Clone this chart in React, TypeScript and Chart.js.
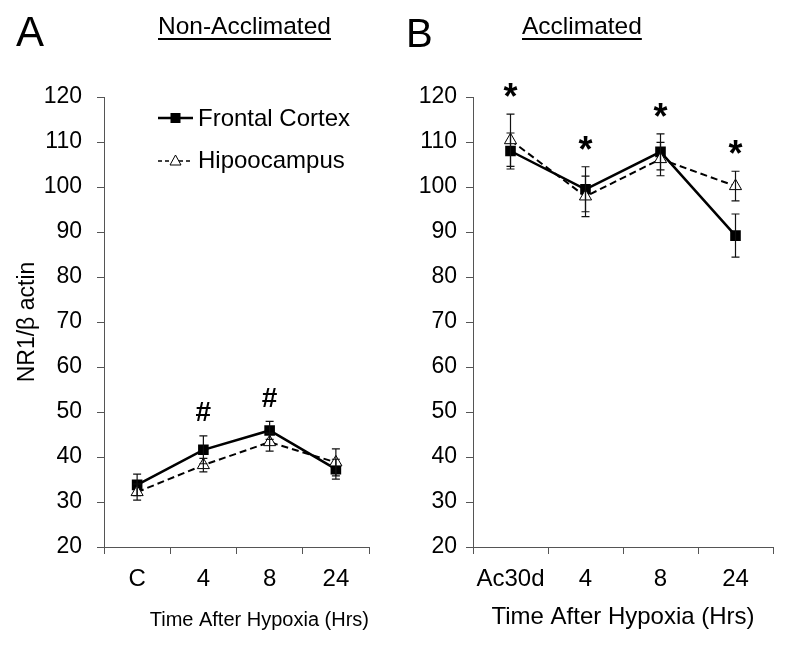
import React, { useEffect, useRef } from 'react';
import { Chart, registerables } from 'chart.js';
Chart.register(...registerables);

const FONT = "'Liberation Sans', Arial, Helvetica, sans-serif";

// ---- data ----
const categoriesA = ['C', '4', '8', '24'];
const categoriesB = ['Ac30d', '4', '8', '24'];
const seriesNames = ['Frontal Cortex', 'Hipoocampus'];

const frontalA = [33.8, 41.6, 45.9, 37.3];
const frontalErrA = [2.4, 3.1, 2.0, 2.2];
const hippoA = [32.2, 38.2, 43.3, 38.8];
const hippoErrA = [1.8, 1.5, 2.0, 3.0];

const frontalB = [108.0, 99.5, 107.8, 89.2];
const frontalErrB = [4.0, 5.0, 4.0, 4.8];
const hippoB = [110.4, 97.9, 106.2, 100.2];
const hippoErrB = [5.8, 4.5, 3.7, 3.3];

const marksA = ['', '#', '#', ''];
const marksB = ['*', '*', '*', '*'];

const yMin = 20;
const yMax = 120;
const yStep = 10;

const yTitle = 'NR1/\u03b2 actin';
const xTitle = 'Time After Hypoxia (Hrs)';

// ---- plugins ----
const errorBarPlugin = {
  id: 'errorBars',
  afterDatasetsDraw(chart: any) {
    const ctx = chart.ctx;
    const ys = chart.scales.y;
    ctx.save();
    ctx.setLineDash([]);
    ctx.strokeStyle = '#111';
    ctx.lineWidth = 1.2;
    chart.data.datasets.forEach((ds: any, i: number) => {
      const meta = chart.getDatasetMeta(i);
      ds.data.forEach((v: number, j: number) => {
        const e = ds.errors[j];
        const x = meta.data[j].x;
        const t = ys.getPixelForValue(v + e);
        const b = ys.getPixelForValue(v - e);
        ctx.beginPath();
        ctx.moveTo(x, t);
        ctx.lineTo(x, b);
        ctx.moveTo(x - 4, t);
        ctx.lineTo(x + 4, t);
        ctx.moveTo(x - 4, b);
        ctx.lineTo(x + 4, b);
        ctx.stroke();
      });
    });
    ctx.restore();
  },
};

const marksPlugin = {
  id: 'sigMarks',
  afterDatasetsDraw(chart: any, _args: any, opts: any) {
    const marks: string[] = opts.marks || [];
    const ctx = chart.ctx;
    const ys = chart.scales.y;
    const xs = chart.scales.x;
    ctx.save();
    ctx.fillStyle = '#000';
    ctx.textAlign = 'center';
    ctx.textBaseline = 'alphabetic';
    marks.forEach((m, j) => {
      if (!m) return;
      let top = Infinity;
      chart.data.datasets.forEach((ds: any) => {
        top = Math.min(top, ys.getPixelForValue(ds.data[j] + ds.errors[j]));
      });
      const cy = top - opts.gap;
      ctx.font = opts.font;
      const mt = ctx.measureText(m);
      const asc = mt.actualBoundingBoxAscent;
      const desc = mt.actualBoundingBoxDescent;
      const baseline = cy + (asc - desc) / 2;
      ctx.fillText(m, xs.getPixelForValue(j), baseline);
    });
    ctx.restore();
  },
};

const legendPlugin = {
  id: 'seriesLegend',
  afterDraw(chart: any, _args: any, opts: any) {
    if (!opts.show) return;
    const ctx = chart.ctx;
    const ca = chart.chartArea;
    const x0 = ca.left + 54;
    const x1 = x0 + 35;
    const xm = (x0 + x1) / 2;
    const r1 = ca.top + 21;
    const r2 = ca.top + 64;
    ctx.save();
    // row 1
    ctx.strokeStyle = '#000';
    ctx.lineWidth = 2.5;
    ctx.setLineDash([]);
    ctx.beginPath();
    ctx.moveTo(x0, r1);
    ctx.lineTo(x1, r1);
    ctx.stroke();
    ctx.fillStyle = '#000';
    ctx.fillRect(xm - 5, r1 - 5, 10, 10);
    // row 2
    ctx.lineWidth = 1.5;
    ctx.setLineDash([4, 3]);
    ctx.beginPath();
    ctx.moveTo(x0, r2);
    ctx.lineTo(x1, r2);
    ctx.stroke();
    ctx.setLineDash([]);
    ctx.fillStyle = '#fff';
    ctx.lineWidth = 1;
    ctx.beginPath();
    ctx.moveTo(xm, r2 - 6);
    ctx.lineTo(xm + 5.5, r2 + 4);
    ctx.lineTo(xm - 5.5, r2 + 4);
    ctx.closePath();
    ctx.fill();
    ctx.stroke();
    // text
    ctx.fillStyle = '#000';
    ctx.font = `24px ${FONT}`;
    ctx.textAlign = 'left';
    ctx.textBaseline = 'alphabetic';
    ctx.fillText(seriesNames[0], x1 + 5, r1 + 8);
    ctx.fillText(seriesNames[1], x1 + 5, r2 + 7);
    ctx.restore();
  },
};

function makeConfig(p: {
  labels: string[];
  fc: number[];
  fcErr: number[];
  hip: number[];
  hipErr: number[];
  marks: string[];
  markFont: string;
  yAxisWidth: number;
  rightPad: number;
  yTickPad: number;
  showYTitle: boolean;
  xTitleSize: number;
  xTitleAlign: 'start' | 'center' | 'end';
  legend: boolean;
}): any {
  return {
    type: 'line',
    data: {
      labels: p.labels,
      datasets: [
        {
          label: seriesNames[0],
          data: p.fc,
          errors: p.fcErr,
          borderColor: '#000',
          borderWidth: 2.5,
          pointStyle: 'rect',
          pointRadius: 7.5,
          pointBackgroundColor: '#000',
          pointBorderColor: '#000',
          pointBorderWidth: 0,
          tension: 0,
          fill: false,
          order: 2,
        },
        {
          label: seriesNames[1],
          data: p.hip,
          errors: p.hipErr,
          borderColor: '#000',
          borderWidth: 2,
          borderDash: [7, 4],
          pointStyle: 'triangle',
          pointRadius: 7,
          pointBackgroundColor: '#fff',
          pointBorderColor: '#000',
          pointBorderWidth: 1,
          tension: 0,
          fill: false,
          order: 1,
        },
      ],
    },
    options: {
      animation: false,
      responsive: false,
      maintainAspectRatio: false,
      devicePixelRatio: 1,
      layout: { padding: { top: 97, right: p.rightPad, bottom: 0, left: 0 } },
      plugins: {
        legend: { display: false },
        tooltip: { enabled: false },
        sigMarks: { marks: p.marks, font: p.markFont, gap: 24 },
        seriesLegend: { show: p.legend },
      },
      scales: {
        x: {
          type: 'category',
          offset: true,
          grid: {
            offset: true,
            drawOnChartArea: false,
            drawTicks: true,
            tickLength: 7,
            color: '#555',
            lineWidth: 1,
          },
          border: { display: true, color: '#555', width: 1 },
          ticks: {
            color: '#000',
            font: { family: FONT, size: 24 },
            padding: 11,
            maxRotation: 0,
            autoSkip: false,
          },
          title: {
            display: true,
            text: xTitle,
            color: '#000',
            align: p.xTitleAlign,
            font: { family: FONT, size: p.xTitleSize },
            padding: { top: 0, bottom: 16 },
          },
          afterFit: (s: any) => {
            s.height = 101;
          },
        },
        y: {
          min: yMin,
          max: yMax,
          grid: {
            drawOnChartArea: false,
            drawTicks: true,
            tickLength: 7,
            color: '#555',
            lineWidth: 1,
          },
          border: { display: true, color: '#555', width: 1 },
          ticks: {
            stepSize: yStep,
            color: '#000',
            font: { family: FONT, size: 23 },
            padding: p.yTickPad,
          },
          title: {
            display: p.showYTitle,
            text: yTitle,
            color: '#000',
            font: { family: FONT, size: 23 },
            padding: { top: 14, bottom: 0 },
          },
          afterFit: (s: any) => {
            s.width = p.yAxisWidth;
          },
        },
      },
    },
    plugins: [errorBarPlugin, marksPlugin, legendPlugin],
  };
}

export default function App() {
  const refA = useRef<HTMLCanvasElement>(null);
  const refB = useRef<HTMLCanvasElement>(null);

  useEffect(() => {
    Chart.defaults.font.family = FONT;
    const a = new Chart(
      refA.current as HTMLCanvasElement,
      makeConfig({
        labels: categoriesA,
        fc: frontalA,
        fcErr: frontalErrA,
        hip: hippoA,
        hipErr: hippoErrA,
        marks: marksA,
        markFont: `bold 28px ${FONT}`,
        yAxisWidth: 104,
        rightPad: 26,
        yTickPad: 15,
        showYTitle: true,
        xTitleSize: 20,
        xTitleAlign: 'end',
        legend: true,
      })
    );
    const b = new Chart(
      refB.current as HTMLCanvasElement,
      makeConfig({
        labels: categoriesB,
        fc: frontalB,
        fcErr: frontalErrB,
        hip: hippoB,
        hipErr: hippoErrB,
        marks: marksB,
        markFont: `bold 36px ${FONT}`,
        yAxisWidth: 78,
        rightPad: 18,
        yTickPad: 9,
        showYTitle: false,
        xTitleSize: 24,
        xTitleAlign: 'center',
        legend: false,
      })
    );
    return () => {
      a.destroy();
      b.destroy();
    };
  }, []);

  const heading = (text: string, left: number, top: number, size: number, underline: boolean) => (
    <div
      style={{
        position: 'absolute',
        left,
        top,
        fontFamily: FONT,
        fontSize: size,
        lineHeight: 1,
        color: '#000',
        whiteSpace: 'nowrap',
        textDecoration: underline ? 'underline' : 'none',
        textDecorationThickness: underline ? '2px' : undefined,
        textUnderlineOffset: underline ? '4px' : undefined,
      }}
    >
      {text}
    </div>
  );

  return (
    <div
      style={{
        position: 'absolute',
        left: 0,
        top: 0,
        width: 791,
        height: 648,
        background: '#fff',
        overflow: 'hidden',
      }}
    >
      <canvas
        ref={refA}
        width={395}
        height={648}
        style={{ position: 'absolute', left: 0, top: 0, width: 395, height: 648 }}
      />
      <canvas
        ref={refB}
        width={396}
        height={648}
        style={{ position: 'absolute', left: 395, top: 0, width: 396, height: 648 }}
      />
      {heading('A', 16, 11, 42, false)}
      {heading('Non-Acclimated', 158, 14, 24.5, true)}
      {heading('B', 406, 13, 40, false)}
      {heading('Acclimated', 522, 14, 24.5, true)}
    </div>
  );
}
